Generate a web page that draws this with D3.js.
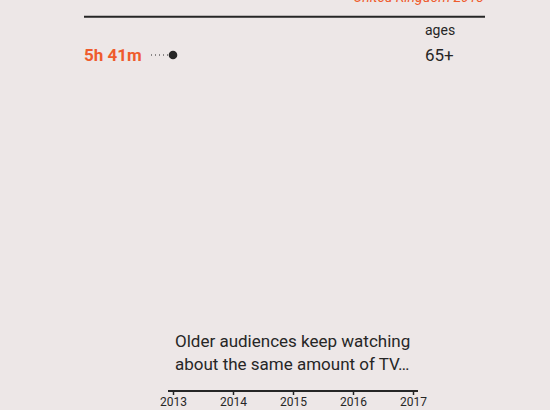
<!DOCTYPE html>
<html>
<head>
<meta charset="utf-8">
<script src="https://cdn.jsdelivr.net/npm/d3@7"></script>
<style>
  html, body { margin: 0; padding: 0; background: #ede7e7; }
  svg { display: block; font-family: Roboto, sans-serif; }
</style>
</head>
<body>
<script>
// TV viewing time by age group, UK (only the first point is shown so far)
const years = [2013, 2014, 2015, 2016, 2017];
const ageGroups = ["65+"];
const minutesWatched = [341]; // 65+ in 2013
const sourceLabel = "United Kingdom 2018";
const caption = ["Older audiences keep watching", "about the same amount of TV…"];

const width = 550;
const height = 410;
const orange = "#ef5b2d";
const ink = "#262626";

const svg = d3.select("body").append("svg")
  .attr("width", width)
  .attr("height", height);

const x = d3.scaleLinear().domain([years[0], years[years.length - 1]]).range([173, 413]);
const y = d3.scaleBand().domain(ageGroups).range([44, 66]);

const fmt = (m) => `${Math.floor(m / 60)}h ${m % 60}m`;

// header
svg.append("text")
  .attr("x", 484).attr("y", 2)
  .attr("text-anchor", "end")
  .style("font-size", "14px")
  .style("font-style", "italic")
  .style("fill", orange)
  .text(sourceLabel);

svg.append("line")
  .attr("x1", 84).attr("x2", 485)
  .attr("y1", 16.7).attr("y2", 16.7)
  .attr("stroke", ink)
  .attr("stroke-width", 2);

svg.append("text")
  .attr("x", 425).attr("y", 35)
  .style("font-size", "14px")
  .style("fill", ink)
  .text("ages");

// rows
const rows = svg.selectAll("g.row")
  .data(ageGroups.map((g, i) => ({ group: g, value: minutesWatched[i] })))
  .join("g")
  .attr("class", "row")
  .attr("transform", (d) => `translate(0,${y(d.group) + y.bandwidth() / 2})`);

rows.append("text")
  .attr("x", 84).attr("dy", "0.35em")
  .style("font-size", "17px")
  .style("font-weight", "bold")
  .style("fill", orange)
  .text((d) => fmt(d.value));

rows.append("line")
  .attr("x1", 151).attr("x2", x(years[0]) - 2)
  .attr("stroke", ink)
  .attr("stroke-width", 1)
  .attr("stroke-dasharray", "1,3");

rows.append("circle")
  .attr("cx", x(years[0]))
  .attr("r", 4.3)
  .attr("fill", ink);

rows.append("text")
  .attr("x", 425).attr("dy", "0.35em")
  .style("font-size", "17px")
  .style("fill", ink)
  .text((d) => d.group);

// caption
svg.append("text")
  .attr("x", 175).attr("y", 347)
  .style("font-size", "17px")
  .style("fill", ink)
  .selectAll("tspan")
  .data(caption)
  .join("tspan")
  .attr("x", 175)
  .attr("dy", (d, i) => (i === 0 ? 0 : 23))
  .text((d) => d);

// year axis
const axis = svg.append("g")
  .attr("transform", "translate(0,391)")
  .call(d3.axisBottom(x).tickValues(years).tickFormat(d3.format("d")).tickSizeInner(4).tickSizeOuter(0).tickPadding(2));

axis.select(".domain")
  .attr("d", `M${x.range()[0] - 5},0H${x.range()[1] + 5}`)
  .attr("stroke", ink)
  .attr("stroke-width", 2);
axis.selectAll(".tick line").attr("stroke", ink).attr("stroke-width", 1.5);
axis.selectAll(".tick text")
  .style("font-family", "Roboto, sans-serif")
  .style("font-size", "12px")
  .style("fill", ink);
</script>
</body>
</html>
